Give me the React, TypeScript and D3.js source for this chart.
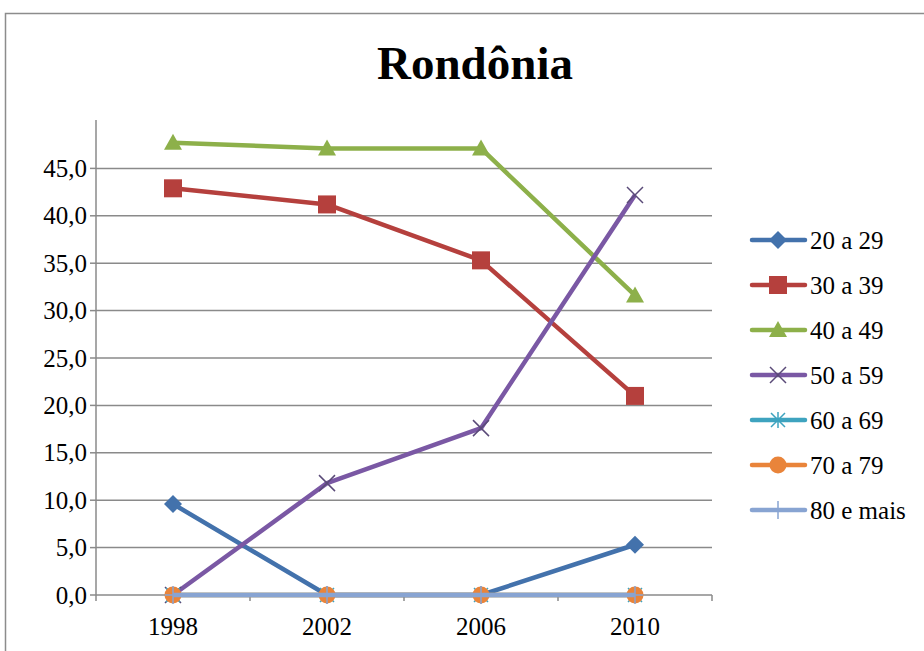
import React from "react";
import * as d3 from "d3";

const categories = ["1998", "2002", "2006", "2010"];
const seriesNames = ["20 a 29", "30 a 39", "40 a 49", "50 a 59", "60 a 69", "70 a 79", "80 e mais"];
const s20 = [9.6, 0, 0, 5.3];
const s30 = [42.9, 41.2, 35.3, 21.0];
const s40 = [47.7, 47.1, 47.1, 31.6];
const s50 = [0, 11.8, 17.6, 42.2];
const s60 = [0, 0, 0, 0];
const s70 = [0, 0, 0, 0];
const s80 = [0, 0, 0, 0];
const yTicks = [0, 5, 10, 15, 20, 25, 30, 35, 40, 45];

const seriesValues = [s20, s30, s40, s50, s60, s70, s80];
const colors = ["#4372AC", "#B5403D", "#8DB04A", "#7A58A4", "#3EA3BF", "#E9843A", "#88A4D2"];
const markers = ["diamond", "square", "triangle", "x", "star", "circle", "plus"];

const W = 924, H = 651;
const left = 96, right = 712, top = 120, bottom = 595;
const font = "'Liberation Serif', 'Times New Roman', serif";

function Marker({ type, x, y, color }: { type: string; x: number; y: number; color: string }) {
  switch (type) {
    case "diamond":
      return <path d={`M${x},${y - 9}L${x + 9},${y}L${x},${y + 9}L${x - 9},${y}Z`} fill={color} />;
    case "square":
      return <rect x={x - 9} y={y - 9} width={18} height={18} fill={color} />;
    case "triangle":
      return <path d={`M${x},${y - 9}L${x + 9},${y + 7}L${x - 9},${y + 7}Z`} fill={color} />;
    case "x":
      return (
        <path d={`M${x - 8},${y - 8}L${x + 8},${y + 8}M${x - 8},${y + 8}L${x + 8},${y - 8}`} stroke="#5a4a78" strokeWidth={1.5} />
      );
    case "star":
      return (
        <path
          d={`M${x - 7},${y - 7}L${x + 7},${y + 7}M${x - 7},${y + 7}L${x + 7},${y - 7}M${x},${y - 8}L${x},${y + 8}`}
          stroke={color}
          strokeWidth={1.5}
        />
      );
    case "circle":
      return <circle cx={x} cy={y} r={8.5} fill={color} />;
    case "plus":
      return <path d={`M${x - 8},${y}L${x + 8},${y}M${x},${y - 9}L${x},${y + 9}`} stroke={color} strokeWidth={1.5} />;
    default:
      return null;
  }
}

export default function App() {
  const x = d3.scaleBand<string>().domain(categories).range([left, right]);
  const y = d3.scaleLinear().domain([0, 50]).range([bottom, bottom - 50 * 9.48]);
  const line = d3
    .line<number>()
    .x((_, i) => (x(categories[i]) as number) + x.bandwidth() / 2)
    .y((d) => y(d));
  const boundaries = categories.map((c) => x(c) as number).concat([right]);
  const ts = { fontFamily: font };

  return (
    <svg width={W} height={H} style={{ position: "absolute", left: 0, top: 0 }}>
      <rect x={0} y={0} width={W} height={H} fill="#fff" />
      <path d={`M5.5,${H}V13.5H${W}`} fill="none" stroke="#8c8c8c" strokeWidth={1.5} />
      <text x={475} y={79} textAnchor="middle" fontSize={47} fontWeight="bold" style={ts}>
        Rondônia
      </text>
      {yTicks.map((t) => (
        <g key={t}>
          <line x1={left} x2={right} y1={y(t)} y2={y(t)} stroke="#8a8a8a" strokeWidth={1.5} />
          <line x1={left - 6} x2={left} y1={y(t)} y2={y(t)} stroke="#8a8a8a" strokeWidth={1.5} />
          <text x={87} y={y(t) + 8.5} textAnchor="end" fontSize={25} style={ts}>
            {t.toFixed(1).replace(".", ",")}
          </text>
        </g>
      ))}
      <line x1={left} x2={left} y1={top} y2={bottom} stroke="#8a8a8a" strokeWidth={1.5} />
      {boundaries.map((b, i) => (
        <line key={i} x1={b} x2={b} y1={bottom} y2={bottom + 6} stroke="#8a8a8a" strokeWidth={1.5} />
      ))}
      {categories.map((c) => (
        <text key={c} x={(x(c) as number) + x.bandwidth() / 2} y={635} textAnchor="middle" fontSize={25} style={ts}>
          {c}
        </text>
      ))}
      {seriesValues.map((vals, si) => (
        <g key={si}>
          <path d={line(vals) || ""} fill="none" stroke={colors[si]} strokeWidth={4.5} strokeLinejoin="round" />
          {vals.map((v, i) => (
            <Marker key={i} type={markers[si]} x={(x(categories[i]) as number) + x.bandwidth() / 2} y={y(v)} color={colors[si]} />
          ))}
        </g>
      ))}
      {seriesNames.map((n, i) => {
        const ly = 240 + i * 45;
        return (
          <g key={n}>
            <line x1={752} x2={805} y1={ly} y2={ly} stroke={colors[i]} strokeWidth={4.5} strokeLinecap="round" />
            <Marker type={markers[i]} x={778} y={ly} color={colors[i]} />
            <text x={810} y={ly + 8.5} fontSize={25} style={ts}>
              {n}
            </text>
          </g>
        );
      })}
    </svg>
  );
}
